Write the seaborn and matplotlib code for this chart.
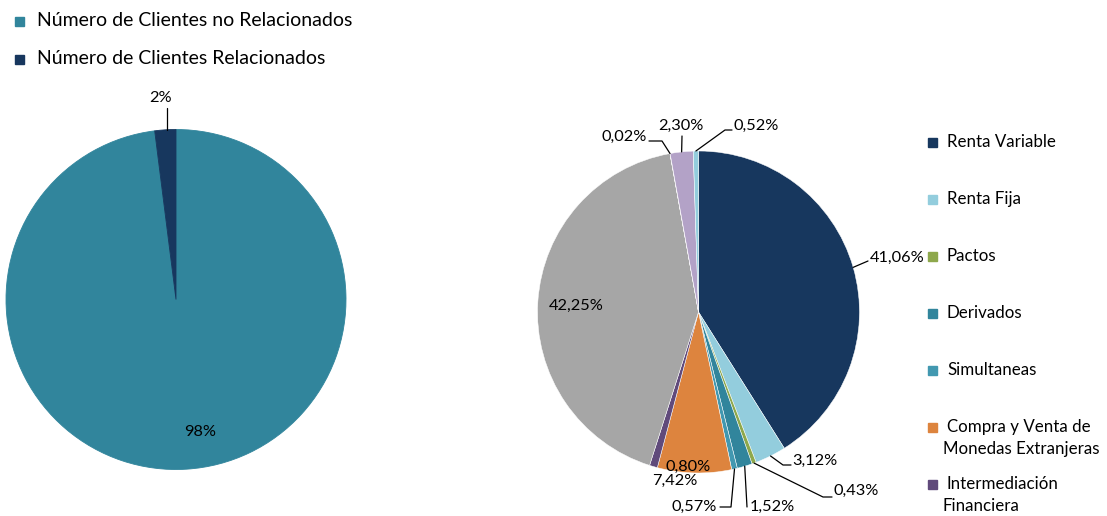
import numpy as np
import matplotlib
matplotlib.use("Agg")
import matplotlib.pyplot as plt
import seaborn as sns

# ---------------- data ----------------
left_labels = ["Número de Clientes no Relacionados", "Número de Clientes Relacionados"]
left_values = [98, 2]
left_texts = ["98%", "2%"]

right_labels = ["Renta Variable", "Renta Fija", "Pactos", "Derivados", "Simultaneas",
                "Compra y Venta de\nMonedas Extranjeras", "Intermediación\nFinanciera",
                "Otros 1", "Otros 2", "Otros 3", "Otros 4"]
right_values = [41.06, 3.12, 0.43, 1.52, 0.57, 7.42, 0.80, 42.25, 0.02, 2.30, 0.52]
right_texts = ["41,06%", "3,12%", "0,43%", "1,52%", "0,57%", "7,42%", "0,80%",
               "42,25%", "0,02%", "2,30%", "0,52%"]
legend_count = 7

# ---------------- style ----------------
sns.set_theme(style="white")
plt.rcParams["font.family"] = ["Lato", "DejaVu Sans"]

left_colors = ["#31859C", "#17375E"]
right_colors = ["#17375E", "#93CDDD", "#8EA84C", "#31859C", "#4298B0", "#DD843E",
                "#604A7B", "#A6A6A6", "#F2DCDB", "#B3A2C7", "#93CDDD"]

W, H = 1107, 516
fig = plt.figure(figsize=(W / 100, H / 100), dpi=100)
ax = fig.add_axes([0, 0, 1, 1])

def Y(y):  # image-pixel y -> axes y
    return H - y

# ---- left pie ----
lcx, lcy, lr = 176, 299.5, 170
lwedges, _ = ax.pie(left_values, colors=left_colors, startangle=90, counterclock=False,
                    center=(lcx, Y(lcy)), radius=lr, frame=True,
                    wedgeprops=dict(linewidth=0.6))
for w in lwedges:
    w.set_edgecolor(w.get_facecolor())

# ---- right pie ----
rcx, rcy, rr = 698.5, 312, 161
wedges, _ = ax.pie(right_values, colors=right_colors, startangle=90, counterclock=False,
                   center=(rcx, Y(rcy)), radius=rr, frame=True,
                   wedgeprops=dict(edgecolor="white", linewidth=0.35))
ax.set_xlim(0, W)
ax.set_ylim(0, H)
ax.set_aspect("equal")
ax.axis("off")

def mid_edge(w, cx, cy, r):
    a = np.deg2rad((w.theta1 + w.theta2) / 2)
    return cx + r * np.cos(a), Y(cy) + r * np.sin(a)

fs = 11.8
# left labels
ax.text(200, Y(432), left_texts[0], ha="center", va="center", fontsize=fs, color="black")
ax.text(161, Y(98), left_texts[1], ha="center", va="center", fontsize=fs, color="black")
sx, sy = mid_edge(lwedges[1], lcx, lcy, lr)
ax.plot([sx + 1.5, sx + 1.5], [sy, Y(108)], color="black", lw=0.9)

# right labels: (text x, text y, ha, leader path points in image pixels)
label_layout = [
    (870, 258, "left", [(868, 261)]),
    (792, 461, "left", [(783, 465), (791, 465)]),
    (833, 491, "left", [(823, 497), (832, 497)]),
    (750, 507, "left", [(747, 507)]),
    (717, 507, "right", [(731, 507), (720, 507)]),
    (675, 481, "center", None),
    (688, 467, "center", None),
    (576, 306, "center", None),
    (647, 137, "right", [(662, 141), (649, 141)]),
    (681, 126, "center", [(682, 136)]),
    (734, 126, "left", [(725, 130), (732, 130)]),
]
for w, t, (tx, ty, ha, path) in zip(wedges, right_texts, label_layout):
    ax.text(tx, Y(ty), t, ha=ha, va="center", fontsize=fs, color="black")
    if path:
        sx, sy = mid_edge(w, rcx, rcy, rr)
        xs = [sx] + [p[0] for p in path]
        ys = [sy] + [Y(p[1]) for p in path]
        ax.plot(xs, ys, color="black", lw=0.9)

# ---- legends (manual) ----
for i, (lab, col) in enumerate(zip(left_labels, left_colors)):
    yy = 21 + i * 38
    ax.add_patch(plt.Rectangle((15, Y(yy) - 4.5), 9, 9, color=col))
    ax.text(37, Y(yy), lab, ha="left", va="center", fontsize=14, color="black")

leg_y = [142, 199, 256, 313, 370, 427, 484]
for lab, col, yy in zip(right_labels[:legend_count], right_colors[:legend_count], leg_y):
    ax.add_patch(plt.Rectangle((928, Y(yy) - 4.5), 9, 9, color=col))
    lines = lab.split("\n")
    ax.text(947, Y(yy), lines[0], ha="left", va="center", fontsize=12.2, color="black")
    if len(lines) > 1:
        ax.text(943, Y(yy + 22), lines[1], ha="left", va="center", fontsize=12.2, color="black")

fig.savefig("out.png", dpi=100)
